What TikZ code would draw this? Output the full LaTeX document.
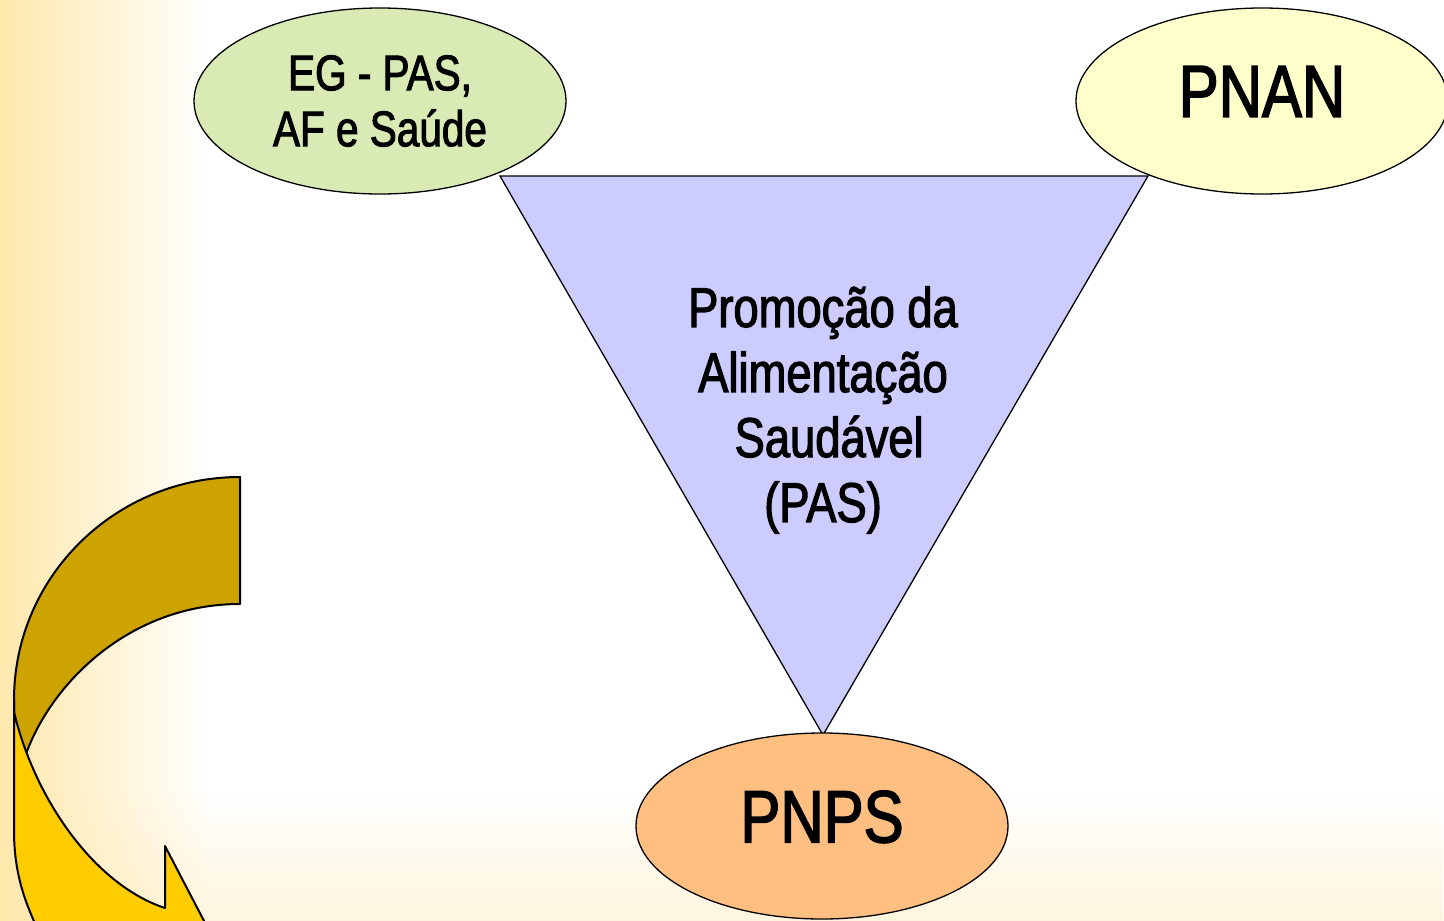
\documentclass[tikz,border=0pt]{standalone}
\usepackage{fontspec}
\setmainfont{Liberation Sans}[FakeStretch=0.81,FakeBold=2]
\usetikzlibrary{shapes,fadings}
\definecolor{egGreen}{RGB}{217,234,180}
\definecolor{pnanYellow}{RGB}{255,255,204}
\definecolor{pnpsOrange}{RGB}{255,191,128}
\definecolor{pasBlue}{RGB}{204,204,255}
\definecolor{arrowDark}{RGB}{204,163,0}
\definecolor{arrowLight}{RGB}{255,204,0}
\definecolor{bgCream}{RGB}{255,232,172}
\newcommand{\bigtxt}{\fontsize{74}{80}\selectfont}
\newcommand{\midtxt}{\fontsize{50}{56}\selectfont}
\newcommand{\pastxt}{\fontsize{56}{65}\selectfont}

\begin{document}
\begin{tikzpicture}[x=1pt,y=-1pt,
		oval/.style={ellipse,draw=black,line width=1.3pt,inner sep=0pt,minimum width=372pt,minimum height=186pt},
		band/.style={draw=black,line width=2pt,line join=round}]
		\useasboundingbox (0,0) rectangle (1444,921);
		\clip (0,0) rectangle (1444,921);
		
		% background
		\fill[white] (0,0) rectangle (1444,921);
		\shade[left color=bgCream,right color=white] (0,0) rectangle (210,921);
		\fill[bgCream,opacity=0.4,path fading=north] (0,790) rectangle (1444,921);
		
		% triangle
		\coordinate (tl) at (500,176);
		\coordinate (tr) at (1148,176);
		\coordinate (tb) at (823,735);
		\draw[fill=pasBlue,line width=1.3pt] (tl) -- (tr) -- (tb) -- cycle;
		\node[align=center,font=\pastxt] (pas) at (823,410) {Promoção da\\Alimentação\\\hspace*{0.22em}Saudável\\(PAS)};
		
		\node[oval,fill=egGreen,align=center,font=\midtxt] (eg) at (380,101) {EG - PAS,\\AF e Saúde};
		\node[oval,fill=pnanYellow,text depth=19pt,font=\bigtxt] (pnan) at (1262,101) {PNAN};
		\node[oval,fill=pnpsOrange,text depth=19pt,font=\bigtxt] (pnps) at (822,826) {PNPS};
		
		% curved arrow
		\draw[band,fill=arrowDark] (240,477) .. controls (116,477) and (14,576) .. (14,700)
			-- (14,730) -- (23,763) .. controls (45,690) and (125,604) .. (240,604) -- cycle;
		\draw[band,fill=arrowLight] (14,700) -- (14,830) .. controls (14,872) and (24,900) .. (38,930)
			-- (240,990) -- (165,846) -- (165,908) .. controls (95,885) and (35,800) .. (14,712) -- cycle;
\end{tikzpicture}
\end{document}
